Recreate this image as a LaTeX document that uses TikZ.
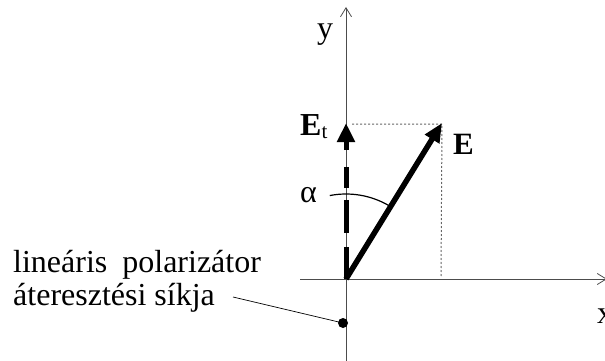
\documentclass[tikz,border=0pt]{standalone}
\usepackage{fontspec}
\setmainfont{Liberation Serif}
\usetikzlibrary{arrows.meta}
\begin{document}
\begin{tikzpicture}[x=1pt,y=-1pt,
  axis/.style={draw=black!70,line width=0.8pt},
  guide/.style={draw=black!60,line width=1pt,dash pattern=on 2pt off 2pt},
  lbl/.style={inner sep=0pt,anchor=base west,font=\fontsize{32}{34}\selectfont},
  vec/.style={line width=5.5pt,-{Triangle[length=19pt,width=16pt]}},
]
\useasboundingbox (0,0) rectangle (605,361);
\coordinate (O) at (346,279);
\coordinate (ytop) at (346,7);
\coordinate (ybot) at (346,365);
\coordinate (xl) at (300,279);
\coordinate (xr) at (607,279);
\coordinate (Et) at (346,123);
\coordinate (E) at (442,123);
\coordinate (Ex) at (441,277);
\coordinate (Ey) at (352,124);
\coordinate (dot) at (343,323);
\coordinate (lead) at (233,297);
% axes
\draw[axis,-{Straight Barb[length=9pt,width=11pt,line width=0.8pt]}] (ybot) -- (ytop);
\draw[axis,-{Straight Barb[length=9pt,width=11pt,line width=0.8pt]}] (xl) -- (xr);
% guides
\draw[guide] (Ey) -- (E |- Ey) -- (Ex);
% vectors
\draw[line width=5pt,dash pattern=on 32pt off 14pt on 33pt off 12pt on 21pt off 17pt on 12pt,
  -{Triangle[length=19pt,width=17pt]}] (O) -- (Et);
\draw[vec] (O) -- (E);
% angle
\draw[line width=1.2pt] (O) ++(-101:85) arc[start angle=-101,end angle=-60,radius=85];
% dot and leader
\fill (dot) circle (5);
\draw[line width=0.7pt] (lead) -- (dot);
% labels
\node[lbl] (ly) at (317,39) {y};
\node[lbl] (lx) at (597,323) {x};
\node[lbl] (la) at (300,202) {α};
\node[lbl] (lEt) at (300,135) {\textbf{E}{\fontsize{21}{21}\selectfont\raisebox{-3pt}{t}}};
\node[lbl,font=\fontsize{31}{31}\selectfont] (lE) at (453,154) {\textbf{E}};
\node[lbl] (l1) at (13,272) {lineáris\hspace{15pt}polarizátor};
\node[lbl] (l2) at (13,305) {áteresztési síkja};
\end{tikzpicture}
\end{document}
